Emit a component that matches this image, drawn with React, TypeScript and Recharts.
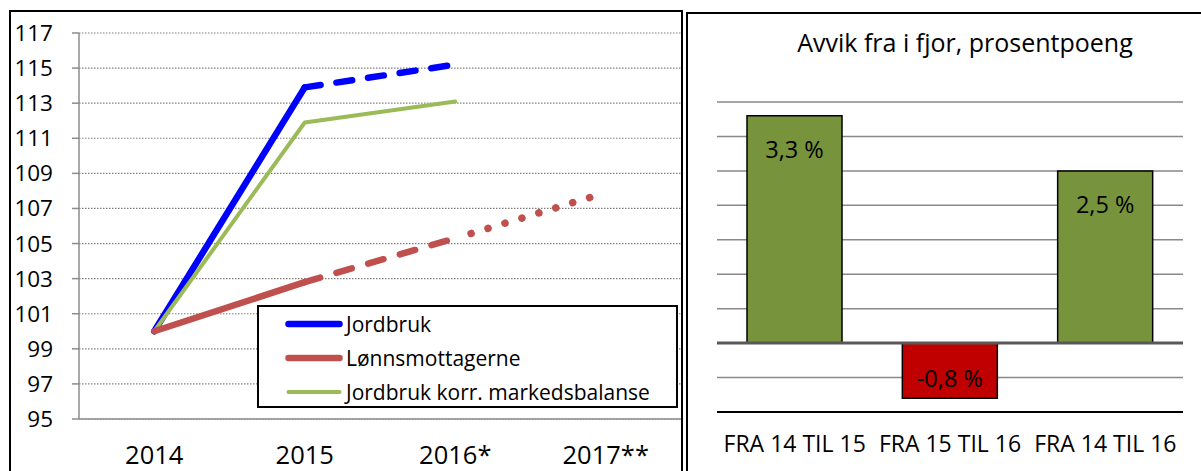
import React from 'react';
import {
  LineChart,
  Line,
  XAxis,
  YAxis,
  CartesianGrid,
  Legend,
  BarChart,
  Bar,
  Cell,
  LabelList,
  ReferenceLine,
} from 'recharts';

// left chart: index 2014 = 100
const years = ['2014', '2015', '2016*', '2017**'];
const jordbruk = [100, 113.9, 115.2, null];
const lonnsmottagerne = [100, 102.8, 105.3, 107.9];
const jordbrukKorr = [100, 111.9, 113.1, null];
const yTicks = [95, 97, 99, 101, 103, 105, 107, 109, 111, 113, 115, 117];

// right chart: deviation from last year
const periods = ['FRA 14 TIL 15', 'FRA 15 TIL 16', 'FRA 14 TIL 16'];
const avvik = [3.3, -0.8, 2.5];
const avvikLabels = ['3,3 %', '-0,8 %', '2,5 %'];
const avvikTicks = [-1, -0.5, 0, 0.5, 1, 1.5, 2, 2.5, 3, 3.5];

const FONT = '"Open Sans", sans-serif';
const BLUE = '#0000FF';
const RED = '#C0504D';
const GREEN = '#9BBB59';

// keep a value only inside [from, to] so one series can be split into solid/dashed/dotted parts
const seg = (values: (number | null)[], from: number, to: number, i: number) =>
  i >= from && i <= to ? values[i] : null;

const lineData = years.map((year, i) => ({
  x: i + 0.5,
  year,
  jordbrukSolid: seg(jordbruk, 0, 1, i),
  jordbrukDash: seg(jordbruk, 1, 2, i),
  lonnSolid: seg(lonnsmottagerne, 0, 1, i),
  lonnDash: seg(lonnsmottagerne, 1, 2, i),
  lonnDot: seg(lonnsmottagerne, 2, 3, i),
  korr: seg(jordbrukKorr, 0, 3, i),
}));

const barData = periods.map((cat, i) => ({
  cat,
  value: avvik[i],
  label: avvikLabels[i],
}));

const legendItems = [
  { name: 'Jordbruk', color: BLUE, width: 6.5 },
  { name: 'Lønnsmottagerne', color: RED, width: 6.5 },
  { name: 'Jordbruk korr. markedsbalanse', color: GREEN, width: 4 },
];

const LegendBox = () => (
  <div
    style={{
      width: '100%',
      height: '100%',
      boxSizing: 'border-box',
      border: '2px solid #000',
      background: '#fff',
      fontFamily: FONT,
      fontSize: 21,
      color: '#000',
    }}
  >
    {legendItems.map((item) => (
      <div key={item.name} style={{ height: 34, display: 'flex', alignItems: 'center' }}>
        <svg width={58} height={10} style={{ marginLeft: 26, marginRight: 3 }}>
          <line
            x1={3.5}
            y1={5}
            x2={54.5}
            y2={5}
            stroke={item.color}
            strokeWidth={item.width}
            strokeLinecap="round"
          />
        </svg>
        <span style={{ lineHeight: '34px', whiteSpace: 'nowrap' }}>{item.name}</span>
      </div>
    ))}
  </div>
);

const BarValueLabel = (props: any) => {
  const { x, y, width, height, index } = props;
  const top = Math.min(y, y + height);
  const bottom = Math.max(y, y + height);
  const v = avvik[index];
  const cy = v >= 0 ? top + 33 : bottom - 20;
  return (
    <text
      x={x + width / 2}
      y={cy}
      textAnchor="middle"
      dominantBaseline="central"
      fill="#000"
      fontSize={23.5}
      fontFamily={FONT}
    >
      {barData[index].label}
    </text>
  );
};

export default function App() {
  const tickStyle = { fill: '#000', fontSize: 22.5, fontFamily: FONT };
  return (
    <div
      style={{
        position: 'absolute',
        left: 0,
        top: 0,
        width: 1201,
        height: 471,
        overflow: 'hidden',
        background: '#fff',
        fontFamily: FONT,
      }}
    >
      {/* panel frames */}
      <div
        style={{
          position: 'absolute',
          left: 9,
          top: 10,
          width: 674,
          height: 500,
          border: '2px solid #000',
          boxSizing: 'border-box',
        }}
      />
      <div
        style={{
          position: 'absolute',
          left: 686,
          top: 12,
          width: 530,
          height: 500,
          border: '2px solid #000',
          boxSizing: 'border-box',
        }}
      />

      <div style={{ position: 'absolute', left: 10, top: 11 }}>
        <LineChart
          width={672}
          height={460}
          data={lineData}
          margin={{ top: 22, right: 1, bottom: 0, left: 0 }}
        >
          <CartesianGrid
            vertical={false}
            stroke="#808080"
            strokeWidth={1.2}
            strokeDasharray="1.5 1.5"
          />
          <XAxis
            dataKey="x"
            type="number"
            domain={[0, 4]}
            ticks={[0, 1, 2, 3, 4]}
            tick={false}
            tickSize={8}
            height={8}
            axisLine={{ stroke: '#8c8c8c', strokeWidth: 1.5 }}
            tickLine={{ stroke: '#8c8c8c', strokeWidth: 1.5 }}
          />
          <XAxis
            xAxisId="labels"
            dataKey="x"
            type="number"
            domain={[0, 4]}
            ticks={[0.5, 1.5, 2.5, 3.5]}
            tickFormatter={(v: number) => years[Math.floor(v)]}
            axisLine={false}
            tickLine={false}
            tickSize={0}
            tickMargin={19}
            height={44}
            tick={{ ...tickStyle, fontSize: 25.5 }}
            interval={0}
          />
          <YAxis
            domain={[95, 117]}
            ticks={yTicks}
            width={69}
            tickSize={7}
            tickMargin={19}
            interval={0}
            axisLine={{ stroke: '#8c8c8c', strokeWidth: 1.5 }}
            tickLine={{ stroke: '#8c8c8c', strokeWidth: 1.5 }}
            tick={tickStyle}
          />
          <Legend
            layout="vertical"
            align="center"
            verticalAlign="middle"
            wrapperStyle={{ left: 247, top: 294, width: 421, height: 103 }}
            content={() => <LegendBox />}
          />
          <Line
            type="linear"
            dataKey="jordbrukSolid"
            stroke={BLUE}
            strokeWidth={6.5}
            strokeLinecap="round"
            strokeLinejoin="round"
            dot={false}
            activeDot={false}
            isAnimationActive={false}
          />
          <Line
            type="linear"
            dataKey="jordbrukDash"
            stroke={BLUE}
            strokeWidth={6.5}
            strokeDasharray="16 16"
            strokeLinecap="round"
            dot={false}
            activeDot={false}
            isAnimationActive={false}
          />
          <Line
            type="linear"
            dataKey="korr"
            stroke={GREEN}
            strokeWidth={4}
            strokeLinecap="round"
            strokeLinejoin="round"
            dot={false}
            activeDot={false}
            isAnimationActive={false}
          />
          <Line
            type="linear"
            dataKey="lonnSolid"
            stroke={RED}
            strokeWidth={6.5}
            strokeLinecap="round"
            dot={false}
            activeDot={false}
            isAnimationActive={false}
          />
          <Line
            type="linear"
            dataKey="lonnDash"
            stroke={RED}
            strokeWidth={6.5}
            strokeDasharray="16 17"
            strokeLinecap="round"
            dot={false}
            activeDot={false}
            isAnimationActive={false}
          />
          <Line
            type="linear"
            dataKey="lonnDot"
            stroke={RED}
            strokeWidth={7.5}
            strokeDasharray="0.1 17.6"
            strokeDashoffset={-16.5}
            strokeLinecap="round"
            dot={false}
            activeDot={false}
            isAnimationActive={false}
          />
        </LineChart>
      </div>

      <div
        style={{
          position: 'absolute',
          left: 765,
          top: 31,
          width: 400,
          textAlign: 'center',
          fontSize: 25,
          lineHeight: '22px',
          color: '#000',
          whiteSpace: 'nowrap',
        }}
      >
        Avvik fra i fjor, prosentpoeng
      </div>

      <div style={{ position: 'absolute', left: 686, top: 12 }}>
        <BarChart
          width={515}
          height={459}
          data={barData}
          margin={{ top: 90, right: 18, bottom: 0, left: 31 }}
        >
          <CartesianGrid vertical={false} stroke="#898989" strokeWidth={1.5} />
          <XAxis
            dataKey="cat"
            height={59}
            axisLine={{ stroke: '#000', strokeWidth: 2 }}
            tickLine={false}
            tickSize={0}
            tickMargin={24}
            interval={0}
            tick={{ ...tickStyle, fontSize: 23 }}
          />
          <YAxis hide domain={[-1, 3.5]} ticks={avvikTicks} />
          <Bar
            dataKey="value"
            barSize={95}
            stroke="#000"
            strokeWidth={1.5}
            isAnimationActive={false}
          >
            {barData.map((d) => (
              <Cell key={d.cat} fill={d.value >= 0 ? '#77933C' : '#C00000'} />
            ))}
            <LabelList dataKey="value" content={<BarValueLabel />} />
          </Bar>
          <ReferenceLine y={0} stroke="#595959" strokeWidth={3} />
        </BarChart>
      </div>
    </div>
  );
}
